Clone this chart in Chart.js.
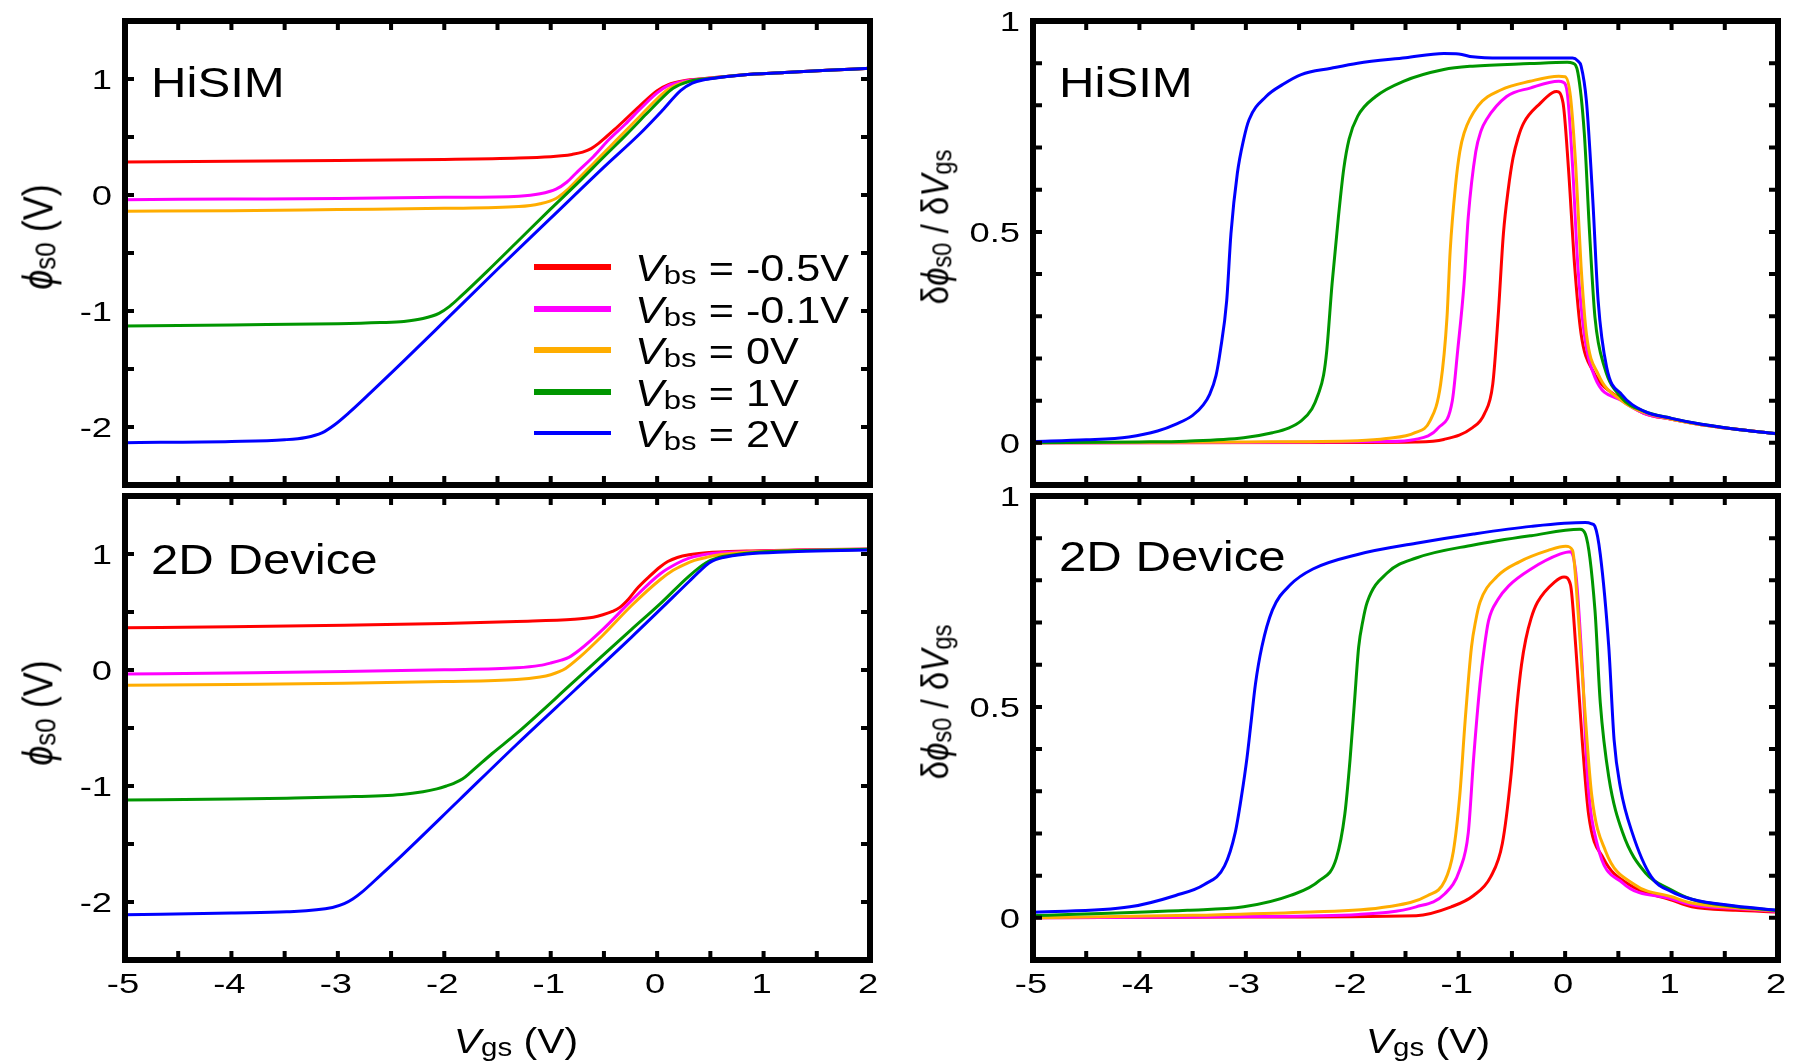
<!DOCTYPE html>
<html>
<head>
<meta charset="utf-8">
<script src="https://cdn.jsdelivr.net/npm/chart.js@4.4.1/dist/chart.umd.min.js"></script>
<style>
  body { margin: 0; background: #fff; }
  #fig { position: relative; width: 1798px; height: 1062px; overflow: hidden;
         font-family: "Liberation Sans", Arial, sans-serif; color: #000; }
  #fig canvas { position: absolute; left: 0; top: 0; }
  .tag { position: absolute; font-size: 42px; line-height: 1; white-space: nowrap;
         transform: scaleX(1.17); transform-origin: 0 0; }
  .ytitle, .xtitle { position: absolute; line-height: 1; white-space: nowrap; }
  .ytitle { font-size: 36px; transform: translate(-50%, -50%) rotate(-90deg) scaleY(1.17); }
  .ytitle.slope { font-size: 33px; }
  .xtitle { font-size: 35px; transform: translate(-50%, -50%) scaleX(1.17); }
  sub { font-size: 0.72em; vertical-align: -0.12em; line-height: 0; }
  .row { position: absolute; left: 0; height: 0; }
  .row .sw { position: absolute; left: 534px; width: 77px; }
  .row .txt { position: absolute; left: 635px; top: -16px; font-size: 36px; line-height: 1;
              white-space: nowrap; transform: scaleX(1.2); transform-origin: 0 0; }
</style>
</head>
<body>
<div id="fig">
  <canvas id="hsPhi" width="1798" height="1062"></canvas>
  <canvas id="hsDer" width="1798" height="1062"></canvas>
  <canvas id="devPhi" width="1798" height="1062"></canvas>
  <canvas id="devDer" width="1798" height="1062"></canvas>

  <div class="tag" style="left:151px;top:62px">HiSIM</div>
  <div class="tag" style="left:1059px;top:62px">HiSIM</div>
  <div class="tag" style="left:151px;top:539px">2D Device</div>
  <div class="tag" style="left:1059px;top:536px">2D Device</div>

  <div class="ytitle" style="left:38px;top:237px"><i>ϕ</i><sub>s0</sub> (V)</div>
  <div class="ytitle" style="left:38px;top:713px"><i>ϕ</i><sub>s0</sub> (V)</div>
  <div class="ytitle slope" style="left:935px;top:227px">δ<i>ϕ</i><sub>s0</sub> / δ<i>V</i><sub>gs</sub></div>
  <div class="ytitle slope" style="left:935px;top:702px">δ<i>ϕ</i><sub>s0</sub> / δ<i>V</i><sub>gs</sub></div>

  <div class="xtitle" style="left:516px;top:1040px"><i>V</i><sub>gs</sub> (V)</div>
  <div class="xtitle" style="left:1428px;top:1040px"><i>V</i><sub>gs</sub> (V)</div>

  <div id="legend"></div>
</div>

<script>
// Vbs sweep, one curve per value
const vbsLabels = ['-0.5V', '-0.1V', '0V', '1V', '2V'];
const vbsColors = ['#ff0000', '#ff00ff', '#ffad00', '#009600', '#0000ff'];

// axis ticks
const vgsTicks = [-5, -4, -3, -2, -1, 0, 1, 2];
const vgsMinor = [-4.5, -4, -3.5, -3, -2.5, -2, -1.5, -1, -0.5, 0, 0.5, 1, 1.5];
const phiTicks = [-2, -1, 0, 1];
const phiMinor = [-2, -1.5, -1, -0.5, 0, 0.5, 1];
const slopeTicks = [0, 0.5, 1];
const slopeMinor = [0, 0.1, 0.2, 0.3, 0.4, 0.5, 0.6, 0.7, 0.8, 0.9];

// HiSIM: surface potential phi_s0 vs Vgs  [Vgs, V]
const hsPhiRed = [[-5,0.285],[-4,0.29],[-3,0.297],[-2,0.306],[-1.3,0.318],[-1,0.33],[-0.9,0.338],[-0.8,0.35],[-0.7,0.37],[-0.62,0.4],[-0.55,0.445],[-0.48,0.5],[-0.4,0.565],[-0.3,0.65],[-0.15,0.78],[0,0.9],[0.1,0.95],[0.25,0.985],[0.45,1.005],[0.8,1.035],[1.2,1.055],[1.6,1.075],[2,1.092]];
const hsPhiMag = [[-5,-0.04],[-4,-0.035],[-3,-0.03],[-2,-0.02],[-1.3,-0.01],[-1.1,0.01],[-0.95,0.05],[-0.85,0.11],[-0.75,0.2],[-0.6,0.33],[-0.45,0.48],[-0.3,0.61],[-0.15,0.75],[0,0.88],[0.1,0.94],[0.25,0.98],[0.45,1.003],[0.8,1.035],[1.2,1.055],[1.6,1.075],[2,1.092]];
const hsPhiOrg = [[-5,-0.14],[-4,-0.135],[-3,-0.125],[-2,-0.115],[-1.3,-0.1],[-1.1,-0.075],[-0.95,-0.03],[-0.85,0.04],[-0.75,0.13],[-0.6,0.27],[-0.45,0.41],[-0.3,0.55],[-0.15,0.69],[0,0.83],[0.1,0.91],[0.25,0.97],[0.45,1],[0.8,1.035],[1.2,1.055],[1.6,1.075],[2,1.092]];
const hsPhiGrn = [[-5,-1.13],[-4,-1.12],[-3,-1.11],[-2.6,-1.1],[-2.38,-1.09],[-2.2,-1.065],[-2.05,-1.02],[-1.95,-0.96],[-1.84,-0.87],[-1.6,-0.66],[-1.3,-0.39],[-1,-0.12],[-0.75,0.1],[-0.5,0.33],[-0.29,0.52],[-0.1,0.7],[0.05,0.84],[0.15,0.92],[0.3,0.98],[0.5,1.005],[0.8,1.035],[1.2,1.055],[1.6,1.075],[2,1.092]];
const hsPhiBlu = [[-5,-2.135],[-4,-2.125],[-3.5,-2.11],[-3.3,-2.09],[-3.15,-2.05],[-3.03,-1.98],[-2.9,-1.88],[-2.7,-1.71],[-2.38,-1.43],[-2,-1.09],[-1.5,-0.64],[-1,-0.2],[-0.5,0.24],[-0.16,0.53],[0.05,0.73],[0.22,0.9],[0.33,0.965],[0.45,0.995],[0.6,1.015],[0.8,1.035],[1.2,1.055],[1.6,1.075],[2,1.092]];

// HiSIM: d(phi_s0)/d(Vgs)
const hsDerRed = [[-5,0],[-2,0.001],[-1.41,0.002],[-1.14,0.008],[-0.87,0.036],[-0.76,0.068],[-0.68,0.139],[-0.63,0.298],[-0.58,0.496],[-0.535,0.6],[-0.49,0.675],[-0.44,0.725],[-0.39,0.758],[-0.23,0.806],[-0.12,0.83],[-0.08,0.833],[-0.02,0.806],[0.03,0.655],[0.09,0.417],[0.15,0.258],[0.26,0.171],[0.53,0.103],[0.74,0.07],[1,0.056],[1.28,0.043],[1.65,0.031],[2,0.021]];
const hsDerMag = [[-5,0],[-3,0.001],[-1.68,0.003],[-1.41,0.008],[-1.19,0.036],[-1.06,0.1],[-1.01,0.218],[-0.95,0.377],[-0.91,0.536],[-0.84,0.69],[-0.79,0.74],[-0.74,0.766],[-0.55,0.821],[-0.33,0.841],[-0.06,0.857],[-0.02,0.855],[0.02,0.83],[0.07,0.655],[0.12,0.417],[0.18,0.258],[0.28,0.155],[0.53,0.1],[0.74,0.07],[1,0.056],[1.28,0.043],[1.65,0.031],[2,0.021]];
const hsDerOrg = [[-5,0],[-3,0.002],[-1.95,0.005],[-1.68,0.01],[-1.41,0.024],[-1.27,0.052],[-1.17,0.139],[-1.11,0.298],[-1.08,0.456],[-1.03,0.61],[-0.99,0.69],[-0.95,0.734],[-0.82,0.798],[-0.6,0.837],[-0.33,0.857],[-0.06,0.869],[0,0.868],[0.05,0.821],[0.1,0.655],[0.15,0.417],[0.2,0.258],[0.31,0.163],[0.53,0.1],[0.74,0.072],[1,0.056],[1.28,0.043],[1.65,0.031],[2,0.021]];
const hsDerGrn = [[-5,0],[-4,0.002],[-3.56,0.004],[-3.02,0.012],[-2.75,0.024],[-2.6,0.035],[-2.48,0.052],[-2.38,0.08],[-2.32,0.115],[-2.27,0.16],[-2.24,0.218],[-2.19,0.377],[-2.13,0.536],[-2.08,0.65],[-2.03,0.72],[-1.95,0.774],[-1.78,0.821],[-1.52,0.857],[-1.14,0.885],[-0.87,0.893],[-0.33,0.899],[0.02,0.902],[0.07,0.9],[0.12,0.877],[0.18,0.734],[0.23,0.496],[0.28,0.298],[0.37,0.179],[0.53,0.107],[0.74,0.075],[1,0.058],[1.28,0.044],[1.65,0.031],[2,0.021]];
const hsDerBlu = [[-5,0.003],[-4.5,0.007],[-4.1,0.014],[-3.83,0.028],[-3.65,0.045],[-3.5,0.065],[-3.4,0.09],[-3.34,0.115],[-3.28,0.16],[-3.24,0.218],[-3.18,0.337],[-3.14,0.496],[-3.08,0.639],[-3.02,0.72],[-2.97,0.766],[-2.81,0.821],[-2.65,0.85],[-2.48,0.873],[-2.2,0.888],[-1.95,0.9],[-1.5,0.913],[-1.14,0.923],[-1,0.922],[-0.87,0.915],[-0.6,0.912],[-0.33,0.912],[0.07,0.912],[0.12,0.905],[0.15,0.893],[0.2,0.81],[0.26,0.575],[0.31,0.337],[0.39,0.179],[0.53,0.115],[0.74,0.075],[1,0.058],[1.28,0.044],[1.65,0.031],[2,0.021]];

// 2D device simulation: phi_s0 vs Vgs
const devPhiRed = [[-5,0.364],[-4,0.372],[-2.94,0.386],[-2,0.4],[-1.32,0.418],[-0.78,0.437],[-0.6,0.455],[-0.51,0.476],[-0.42,0.505],[-0.35,0.54],[-0.27,0.61],[-0.19,0.7],[-0.08,0.8],[0.03,0.89],[0.1,0.935],[0.19,0.97],[0.3,0.993],[0.46,1.01],[0.84,1.025],[1.4,1.036],[2,1.044]];
const devPhiMag = [[-5,-0.035],[-4,-0.025],[-2.94,-0.013],[-2,0.002],[-1.32,0.019],[-1.1,0.04],[-1,0.06],[-0.9,0.085],[-0.83,0.109],[-0.73,0.172],[-0.51,0.35],[-0.24,0.6],[0.03,0.83],[0.19,0.92],[0.3,0.965],[0.41,0.99],[0.6,1.01],[0.9,1.022],[1.4,1.034],[2,1.042]];
const devPhiOrg = [[-5,-0.131],[-4,-0.124],[-2.94,-0.115],[-2,-0.1],[-1.32,-0.082],[-1.1,-0.06],[-1,-0.041],[-0.92,-0.015],[-0.86,0.013],[-0.73,0.109],[-0.51,0.3],[-0.24,0.556],[0.03,0.78],[0.15,0.86],[0.25,0.907],[0.35,0.945],[0.46,0.97],[0.6,0.995],[0.9,1.018],[1.4,1.032],[2,1.04]];
const devPhiGrn = [[-5,-1.121],[-4,-1.113],[-3.48,-1.105],[-3,-1.095],[-2.4,-1.073],[-2.2,-1.05],[-2.07,-1.025],[-1.98,-1],[-1.91,-0.977],[-1.83,-0.94],[-1.75,-0.88],[-1.55,-0.72],[-1.32,-0.547],[-0.78,-0.099],[-0.24,0.35],[0.03,0.572],[0.3,0.81],[0.46,0.925],[0.58,0.97],[0.68,0.987],[0.95,1.015],[1.4,1.03],[2,1.04]];
const devPhiBlu = [[-5,-2.11],[-4,-2.095],[-3.48,-2.085],[-3.05,-2.047],[-2.94,-2.015],[-2.86,-1.975],[-2.78,-1.92],[-2.6,-1.77],[-2.4,-1.6],[-1.86,-1.121],[-1.32,-0.642],[-0.78,-0.179],[-0.24,0.284],[0.3,0.763],[0.42,0.87],[0.5,0.93],[0.62,0.97],[0.84,1],[1.2,1.018],[1.6,1.027],[2,1.034]];

// 2D device simulation: d(phi_s0)/d(Vgs)
const devDerRed = [[-5,0],[-3,0.002],[-1.4,0.005],[-1.07,0.026],[-0.86,0.053],[-0.7,0.097],[-0.59,0.176],[-0.51,0.334],[-0.45,0.51],[-0.41,0.6],[-0.37,0.66],[-0.32,0.71],[-0.26,0.748],[-0.1,0.796],[-0.01,0.808],[0.05,0.79],[0.1,0.642],[0.16,0.422],[0.22,0.246],[0.36,0.141],[0.6,0.079],[1,0.042],[1.19,0.026],[1.6,0.018],[2,0.014]];
const devDerMag = [[-5,0],[-3,0.003],[-1.94,0.008],[-1.4,0.026],[-1.13,0.057],[-0.99,0.114],[-0.91,0.202],[-0.86,0.378],[-0.8,0.554],[-0.76,0.64],[-0.72,0.704],[-0.63,0.755],[-0.53,0.787],[-0.32,0.827],[-0.05,0.862],[0.05,0.868],[0.1,0.818],[0.16,0.598],[0.21,0.334],[0.3,0.176],[0.54,0.083],[1,0.045],[1.19,0.031],[1.6,0.022],[2,0.015]];
const devDerOrg = [[-5,0],[-3.5,0.006],[-2.48,0.013],[-1.67,0.026],[-1.29,0.053],[-1.13,0.088],[-1.05,0.158],[-0.99,0.29],[-0.94,0.466],[-0.88,0.642],[-0.84,0.705],[-0.8,0.748],[-0.64,0.809],[-0.43,0.844],[-0.16,0.871],[0.005,0.881],[0.07,0.871],[0.12,0.73],[0.18,0.51],[0.25,0.29],[0.38,0.158],[0.65,0.079],[1,0.05],[1.19,0.035],[1.6,0.024],[2,0.016]];
const devDerGrn = [[-5,0.005],[-3.55,0.018],[-3.02,0.026],[-2.58,0.053],[-2.31,0.088],[-2.15,0.141],[-2.07,0.246],[-2.02,0.378],[-1.98,0.51],[-1.94,0.642],[-1.9,0.705],[-1.86,0.748],[-1.67,0.818],[-1.4,0.853],[-0.86,0.884],[-0.32,0.906],[0.14,0.921],[0.19,0.91],[0.28,0.73],[0.33,0.51],[0.41,0.334],[0.54,0.202],[0.76,0.105],[1,0.066],[1.19,0.044],[1.6,0.027],[2,0.017]];
const devDerBlu = [[-5,0.013],[-4.09,0.026],[-3.66,0.053],[-3.39,0.079],[-3.2,0.123],[-3.1,0.202],[-3.04,0.29],[-2.99,0.378],[-2.95,0.466],[-2.91,0.554],[-2.85,0.642],[-2.75,0.73],[-2.58,0.79],[-2.37,0.827],[-1.94,0.862],[-1.4,0.888],[-0.86,0.91],[-0.32,0.928],[0.19,0.937],[0.25,0.934],[0.28,0.928],[0.33,0.862],[0.41,0.642],[0.46,0.422],[0.52,0.308],[0.63,0.202],[0.81,0.097],[1,0.062],[1.19,0.044],[1.6,0.028],[2,0.018]];

const W = 1798, H = 1062;
const tickFontCss = '28px "Liberation Sans", Arial, sans-serif';
const tickStretch = 1.3;   // tick numbers are drawn wide

// thick box around the plot area, inward ticks on all four sides,
// and the (horizontally stretched) tick numbers taken from the scales
const framePlugin = {
  id: 'frame',
  afterDraw(chart, args, opts) {
    const { ctx, chartArea: a, scales: { x, y } } = chart;
    const len = 9;
    ctx.save();
    ctx.strokeStyle = '#000';
    ctx.lineWidth = 4;
    ctx.beginPath();
    opts.xMinor.forEach(v => {
      const px = x.getPixelForValue(v);
      ctx.moveTo(px, a.bottom); ctx.lineTo(px, a.bottom - len);
      ctx.moveTo(px, a.top); ctx.lineTo(px, a.top + len);
    });
    opts.yMinor.forEach(v => {
      const py = y.getPixelForValue(v);
      ctx.moveTo(a.left, py); ctx.lineTo(a.left + len, py);
      ctx.moveTo(a.right, py); ctx.lineTo(a.right - len, py);
    });
    ctx.stroke();
    ctx.lineWidth = 6;
    ctx.strokeRect(a.left, a.top, a.right - a.left, a.bottom - a.top);

    ctx.fillStyle = '#000';
    ctx.font = tickFontCss;
    ctx.textBaseline = 'alphabetic';
    const put = (text, px, py, align) => {
      ctx.save();
      ctx.translate(px, py);
      ctx.scale(tickStretch, 1);
      ctx.textAlign = align;
      ctx.fillText(text, 0, 0);
      ctx.restore();
    };
    y.ticks.forEach(t => put(String(t.value), a.left - 13, y.getPixelForValue(t.value) + 10, 'right'));
    if (opts.labelX) {
      x.ticks.forEach(t => put(String(t.value), x.getPixelForValue(t.value) - 2, a.bottom + 33, 'center'));
    }
    ctx.restore();
  }
};

function drawPanel(id, area, curves, yMin, yMax, yTicks, yMinor, showVgs) {
  new Chart(document.getElementById(id), {
    type: 'line',
    data: {
      datasets: curves.map((pts, i) => ({
        label: vbsLabels[i],
        data: pts.map(([x, y]) => ({ x, y })),
        borderColor: vbsColors[i],
        borderWidth: 3,
        pointRadius: 0,
        fill: false,
        cubicInterpolationMode: 'monotone',
        order: curves.length - i
      }))
    },
    options: {
      responsive: false,
      animation: false,
      events: [],
      // the axes own the space left of and below the plot area
      layout: { padding: { left: 0, top: area.top, right: W - area.right, bottom: 0 } },
      plugins: {
        legend: { display: false },
        tooltip: { enabled: false },
        frame: { xMinor: vgsMinor, yMinor: yMinor, labelX: showVgs }
      },
      scales: {
        x: {
          type: 'linear', min: -5, max: 2,
          grid: { display: false, drawTicks: false },
          border: { display: false },
          afterFit: s => { s.height = H - area.bottom; s.paddingLeft = 0; s.paddingRight = 0; },
          afterBuildTicks: s => { s.ticks = vgsTicks.map(v => ({ value: v })); },
          ticks: { display: false }
        },
        y: {
          type: 'linear', min: yMin, max: yMax,
          grid: { display: false, drawTicks: false },
          border: { display: false },
          afterFit: s => { s.width = area.left; s.paddingTop = 0; s.paddingBottom = 0; },
          afterBuildTicks: s => { s.ticks = yTicks.map(v => ({ value: v })); },
          ticks: { display: false }
        }
      }
    },
    plugins: [framePlugin]
  });
}

drawPanel('hsPhi', { left: 125, top: 21, right: 870, bottom: 485 },
  [hsPhiRed, hsPhiMag, hsPhiOrg, hsPhiGrn, hsPhiBlu], -2.5, 1.5, phiTicks, phiMinor, false);
drawPanel('hsDer', { left: 1033, top: 21, right: 1778, bottom: 485 },
  [hsDerRed, hsDerMag, hsDerOrg, hsDerGrn, hsDerBlu], -0.1, 1, slopeTicks, slopeMinor, false);
drawPanel('devPhi', { left: 125, top: 496, right: 870, bottom: 960 },
  [devPhiRed, devPhiMag, devPhiOrg, devPhiGrn, devPhiBlu], -2.5, 1.5, phiTicks, phiMinor, true);
drawPanel('devDer', { left: 1033, top: 496, right: 1778, bottom: 960 },
  [devDerRed, devDerMag, devDerOrg, devDerGrn, devDerBlu], -0.1, 1, slopeTicks, slopeMinor, true);

// legend inside the upper-left panel
const legend = document.getElementById('legend');
vbsLabels.forEach((lab, i) => {
  const row = document.createElement('div');
  row.className = 'row';
  row.style.top = (267 + i * 41.5) + 'px';
  const h = i === 4 ? 4 : 6;
  row.innerHTML = `<span class="sw" style="background:${vbsColors[i]};height:${h}px;top:${-h / 2}px"></span>` +
    `<span class="txt"><i>V</i><sub>bs</sub> = ${lab}</span>`;
  legend.appendChild(row);
});
</script>
</body>
</html>
